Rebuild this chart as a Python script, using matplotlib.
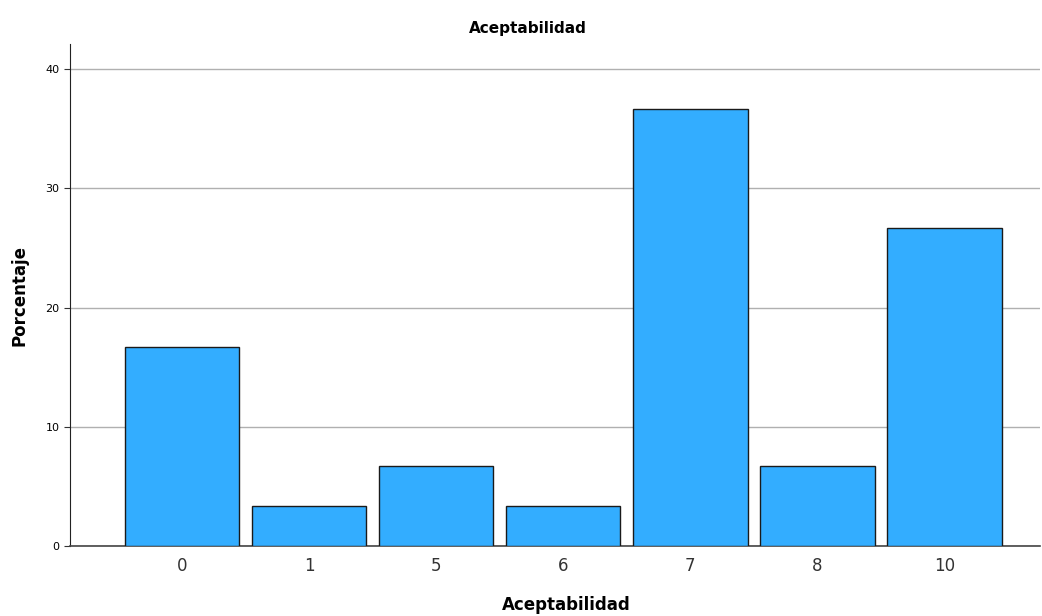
import matplotlib.pyplot as plt
import numpy as np

# === DATA ===
categorias = ['0', '1', '5', '6', '7', '8', '10']
porcentaje = [16.67, 3.33, 6.67, 3.33, 36.67, 6.67, 26.67]

# === Plot ===
fig = plt.figure(figsize=(10.42, 6.16), dpi=100)
ax = fig.add_axes([0.0672, 0.1136, 0.9308, 0.815])

x = np.arange(len(categorias))
ax.bar(x, porcentaje, width=0.9, color='#33adff', edgecolor='#1a1a1a', linewidth=1.0, zorder=3)

ax.set_xlim(-0.88, 6.75)
ax.set_ylim(0, 42.1)
ax.set_yticks([0, 10, 20, 30, 40])
ax.set_xticks(x)
ax.set_xticklabels(categorias, fontsize=12, color='#333333')
ax.tick_params(axis='y', labelsize=8, length=4, color='#333333')
ax.tick_params(axis='x', length=0, pad=8)
ax.yaxis.grid(True, color='#b0b0b0', linewidth=1, zorder=0)

for s in ['top', 'right']:
    ax.spines[s].set_visible(False)
ax.spines['left'].set_color('#222222')
ax.spines['bottom'].set_color('#444444')
ax.spines['bottom'].set_linewidth(1.2)

fig.text(528 / 1042, 1 - 28 / 616, 'Aceptabilidad', fontsize=11, fontweight='bold',
         ha='center', va='center')
fig.text(566 / 1042, 1 - 605 / 616, 'Aceptabilidad', fontsize=12, fontweight='bold',
         ha='center', va='center')
ax.set_ylabel('Porcentaje', fontsize=12, fontweight='bold', labelpad=12)

fig.savefig('out.png', dpi=100)
